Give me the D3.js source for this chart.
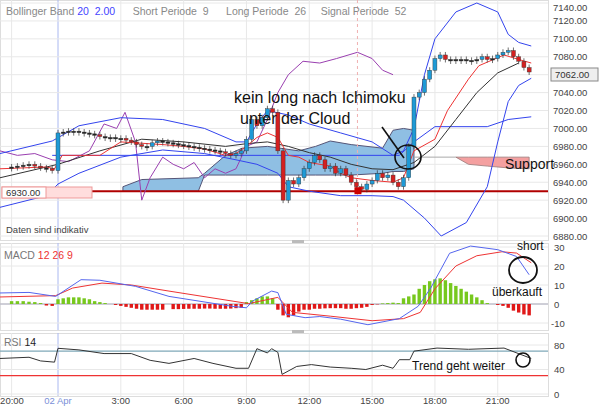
<!DOCTYPE html>
<html><head><meta charset="utf-8">
<script src="https://cdn.jsdelivr.net/npm/d3@7"></script>
<style>body{margin:0;background:#fff}svg{font-family:"Liberation Sans",Arial,sans-serif}</style>
</head><body><svg id="c" width="600" height="407"></svg>
<script>
// ---- data ----
const priceTicks=[6880,6900,6920,6940,6960,6980,7000,7020,7040,7060,7080,7100,7120,7140];
const macdTicks=[-10,0,10,20,30];
const rsiTicks=[0,40,80];
const timeTicks=[[-4,"20:00"],[0,"02 Apr"],[3,"3:00"],[6,"6:00"],[9,"9:00"],[12,"12:00"],[15,"15:00"],[18,"18:00"],[21,"21:00"]];
const preClose=[6957,6958,6959,6960,6958,6956,6955,6953];
const dayClose=[6995,6996,6997,6997,6996,6995,6994,6993,6991,6990,6990,6989,6989,6987,6985,6982,6980,6980,6984,6986,6985,6984,6983,6982,6981,6980,6979,6978,6977,6976,6975,6974,6972,6970,6972,6975,6988,7010,7003,7012,7022,7018,6975,6920,6942,6938,6945,6955,6962,6970,6965,6955,6958,6950,6955,6948,6940,6935,6932,6938,6942,6950,6945,6948,6940,6935,6945,6980,7035,7040,7055,7065,7078,7082,7077,7077,7076,7077,7076,7076,7077,7080,7077,7078,7082,7085,7087,7080,7075,7068,7063];
const firstOpen=6956;
const preHist=[1.5,1.5,1.5,1.2,1,0.5,-0.8,-1];
const dayHist=[2.5,3,3.5,3.5,3.5,3,2.5,1.5,1,0.5,0,-0.5,-1,-1.5,-2,-2.5,-3,-3,-3,-3,-3,0,-2.7,-2.7,-2.6,-2.5,-2.5,-2.5,-2.4,-2.4,-2.5,-2.5,-2.5,-2.4,-2.2,-2,1,2,3,4,4,3,-3,-6,-7,-6,-4,-3,-3,-2.5,-2.5,-2.3,-2.2,-2.2,-2.2,-2.5,-2.5,-2.2,-2,-1.5,-0.5,-0.2,0.3,0.5,0.7,0.5,3,4,5,8,10,12,13,13.5,12.5,11,9.5,8,6.5,5,3.5,2,0.5,0,-0.5,-1,-2,-3.5,-4.5,-5.5,-6];
const bbUpper=[[-5,6972],[-0.5,6986],[1,7003],[3,7012],[5,7010],[7,7000],[8.5,6985],[9,6985],[9.5,7005],[10,7020],[11,7015],[12,7005],[13.5,6995],[15,6985],[16,6970],[16.5,6975],[17,7000],[17.5,7060],[18,7100],[19,7130],[20,7140],[21,7130],[21.5,7105],[22,7096],[22.6,7092]];
const bbLower=[[-5,6912],[-1,6925],[0,6938],[1,6950],[3,6968],[5,6976],[7,6972],[8.5,6965],[9.5,6960],[10.5,6950],[11,6935],[12,6930],[13.5,6925],[15,6925],[16,6924],[16.5,6920],[17.5,6900],[18.3,6880],[19.5,6895],[20.5,6935],[21,6985],[21.5,7030],[22,7048],[22.6,7056]];
const blueStep=[[-0.5,6970],[16.3,6970],[17,6985],[18,7002],[20.5,7002],[21.5,7010],[22.6,7013]];
const redLine=[[-5,6955],[-1,6957],[-0.3,6955],[0.2,6970],[2,6970],[3,6985],[5,6982],[6,6980],[7,6977],[8,6970],[8.5,6972],[9,6980],[9.5,6990],[10,6995],[10.5,6990],[11,6970],[11.5,6968],[12,6962],[13,6958],[13.5,6950],[14,6945],[15,6942],[16,6940],[16.5,6945],[17,6975],[18,6988],[18.6,7020],[19.6,7055],[20.1,7070],[21.3,7082],[22,7077],[22.6,7073]];
const blackLine=[[-5,6945],[0,6960],[2,6975],[4,6988],[6,6985],[8,6980],[9,6983],[10,6985],[11,6980],[12,6973],[13,6968],[14,6960],[15,6955],[16,6954],[17,6962],[18,6980],[19,7010],[20,7040],[21,7062],[22,7073]];
const purpleLine=[[-5,6975],[-3.5,6970],[-2,6972],[-0.5,6965],[0.5,6963],[1.5,6975],[2.2,7005],[2.8,7000],[3.2,7018],[3.7,6985],[4,6920],[4.4,6945],[5,6968],[5.5,6960],[6,6955],[6.5,6962],[7,6945],[7.5,6955],[8,6950],[8.5,6955],[9,6980],[9.5,6985],[10,7010],[10.5,7040],[11,7060],[11.7,7075],[12.5,7073],[13.3,7078],[14.3,7085],[15,7078],[15.5,7065],[16,7060]];
const cloudBlue=[[3.1,6935,6930],[4,6943,6930],[6.7,6945,6930],[7,6950,6948],[8,6970,6948],[8.8,6978,6948],[10,6980,6948],[11.5,6975,6948],[12.3,6980,6948],[13,6986,6948],[14,6982,6948],[15.5,6978,6950],[16,6998,6952],[16.5,7000,6952],[17,6998,6955]];
const cloudRed=[[19,6968,6968],[19.6,6968,6960],[20.5,6968,6958],[21.5,6968,6956],[22.5,6968,6955]];
const macdLine=[[-5,5.8],[-2.5,6.1],[-0.2,4],[1.1,12.8],[2,12.5],[3.7,9.3],[5.3,4],[8.3,-1.2],[9,-2],[9.3,1.6],[10.2,6.8],[10.5,6],[10.9,-5.4],[11.8,-7.2],[12.5,-6.6],[13.5,-8],[14.8,-10.9],[16.3,-7.7],[17.2,-1.2],[17.8,8.4],[18.7,26.7],[19.7,30.5],[21,28.6],[21.9,25],[22.5,15.4]];
const signalLine=[[-5,3.7],[-0.2,4.4],[0.7,8.4],[2.1,11],[3.5,10],[5.3,6.8],[9.1,0.2],[10.5,3.5],[11.2,-4.4],[13,-6.4],[15,-8.8],[16.5,-7.7],[17.3,-4.4],[18,8],[19,20],[20,25.4],[21.2,27.5],[21.9,26.8],[22.6,21.7]];
const rsiLine=[[-5,58],[-2.5,60],[-1.5,54],[-0.3,52],[0,74.6],[1,72],[2.2,66],[3.5,66],[4.4,55],[5.3,50],[6.5,58],[7.4,50],[8.5,42],[9.1,42],[9.5,74],[10,67],[10.2,74],[10.5,68],[10.7,32],[11.4,45],[12.1,48],[13,44],[14,42],[14.7,40],[15.5,47],[16,42],[16.3,56],[16.8,56],[17,70],[18.1,75],[19.6,73],[21.3,75],[22.6,58]];
const supportLevel=6930, lastPrice=7062;

// ---- layout ----
const svg=d3.select("#c");
const W=548;
const x=d3.scaleLinear().domain([-5,0,23.4]).range([0,58,W]);
const y=d3.scaleLinear().domain([6880,7140]).range([236,3]);
const ym=d3.scaleLinear().domain([-10,30]).range([323,247]);
const yr=d3.scaleLinear().domain([0,80]).range([394,345]);
const panels=[[0,240],[243,330],[333,396]];
panels.forEach(p=>svg.append("rect").attr("x",0.5).attr("y",p[0]+0.5).attr("width",W).attr("height",p[1]-p[0]).attr("fill","#fff").attr("stroke","#ddd"));
const g=svg.append("g").attr("stroke","#e8e8e8").attr("stroke-width",1);
timeTicks.forEach(t=>panels.forEach(p=>g.append("line").attr("x1",x(t[0])).attr("x2",x(t[0])).attr("y1",p[0]).attr("y2",p[1]).attr("stroke",t[0]===0?"#aab8f0":"#e8e8e8")));
priceTicks.forEach(v=>g.append("line").attr("x1",0).attr("x2",W).attr("y1",y(v)).attr("y2",y(v)));
macdTicks.forEach(v=>g.append("line").attr("x1",0).attr("x2",W).attr("y1",ym(v)).attr("y2",ym(v)));
rsiTicks.forEach(v=>g.append("line").attr("x1",0).attr("x2",W).attr("y1",yr(v)).attr("y2",yr(v)));
const ax=svg.append("g").attr("font-size",9.5).attr("fill","#444");
priceTicks.filter(v=>Math.abs(y(v)-y(lastPrice))>9).forEach(v=>ax.append("text").attr("x",553).attr("y",Math.max(11,y(v)+3.5)).text(v.toFixed(2)));
macdTicks.forEach(v=>ax.append("text").attr("x",v<0?551:554).attr("y",ym(v)+3.5).text(v));
rsiTicks.forEach(v=>ax.append("text").attr("x",554).attr("y",yr(v)+3.5).text(v));
timeTicks.forEach(t=>ax.append("text").attr("x",Math.max(12,x(t[0]))).attr("y",404).attr("text-anchor","middle").attr("fill",t[0]===0?"#7a8fd8":"#444").text(t[1]));
const area=d3.area().x(d=>x(d[0])).y0(d=>y(d[2])).y1(d=>y(d[1]));
svg.append("path").attr("d",area(cloudBlue)).attr("fill","#8fbfe3").attr("stroke","#557");
svg.append("path").attr("d",area(cloudRed)).attr("fill","#f4a0a0").attr("stroke","#977").attr("stroke-width",0.8);
svg.append("line").attr("x1",x(17)).attr("x2",x(19)).attr("y1",y(6968)).attr("y2",y(6968)).attr("stroke","#aaa");
svg.append("line").attr("x1",92).attr("x2",W).attr("y1",y(supportLevel)).attr("y2",y(supportLevel)).attr("stroke","#b00000").attr("stroke-width",2);
svg.append("line").attr("x1",x(14.3)).attr("x2",x(14.3)).attr("y1",0).attr("y2",240).attr("stroke","#f0b0b0").attr("stroke-dasharray","3,3");
const line=(s)=>d3.line().x(d=>x(d[0])).y(d=>s(d[1]));
const addLine=(data,s,c,w)=>svg.append("path").attr("d",line(s)(data)).attr("fill","none").attr("stroke",c).attr("stroke-width",w||1);
addLine(purpleLine,y,"#9a3fb0");
addLine(bbUpper,y,"#3344ee");addLine(bbLower,y,"#3344ee");addLine(blueStep,y,"#3344ee");
addLine(blackLine,y,"#333");addLine(redLine,y,"#ee3333");
const candles=[];let prev=firstOpen;
preClose.forEach((c,i)=>{candles.push({h:-4+i*0.5,o:prev,c});prev=c;});
dayClose.forEach((c,i)=>{candles.push({h:i*0.25,o:prev,c});prev=c;});
candles.forEach(d=>{const top=y(Math.max(d.o,d.c)),bot=y(Math.min(d.o,d.c));const hgt=Math.max(1.5,bot-top);
 const col=Math.abs(d.c-d.o)<1.5?"#222":(d.c>d.o?"#1e9ad6":"#d42020");
 svg.append("line").attr("x1",x(d.h)).attr("x2",x(d.h)).attr("y1",top-3).attr("y2",top+hgt+3).attr("stroke","#333").attr("stroke-width",0.7);
 svg.append("rect").attr("x",x(d.h)-2).attr("y",top).attr("width",4).attr("height",hgt).attr("fill",col).attr("stroke","#333").attr("stroke-width",0.4);});
svg.append("rect").attr("x",x(14.3)-3).attr("y",y(supportLevel)-4).attr("width",7).attr("height",7).attr("fill","#c00");
svg.append("rect").attr("x",2).attr("y",187).attr("width",90).attr("height",11).attr("fill","#fdd").attr("stroke","#e99");
svg.append("rect").attr("x",2).attr("y",187).attr("width",44).attr("height",11).attr("fill","#fff").attr("stroke","#e99");
svg.append("text").attr("x",6).attr("y",196).attr("font-size",9.5).attr("fill","#333").text("6930.00");
svg.append("rect").attr("x",551).attr("y",68).attr("width",47).attr("height",13).attr("fill","#eee").attr("stroke","#888");
svg.append("text").attr("x",555).attr("y",78).attr("font-size",9.5).attr("fill","#333").text(lastPrice.toFixed(2));
const hdr=svg.append("text").attr("x",6).attr("y",15).attr("font-size",10.5).attr("fill","#888");
[["Bollinger Band ","#888"],["20  2.00","#44f"],["      Short Periode  ","#888"],["9","#888"],["      Long Periode  ","#888"],["26","#888"],["     Signal Periode  ","#888"],["52","#888"]].forEach(t=>hdr.append("tspan").attr("fill",t[1]).attr("xml:space","preserve").text(t[0]));
svg.append("text").attr("x",6).attr("y",233).attr("font-size",9.5).attr("fill","#444").text("Daten sind indikativ");
svg.append("text").attr("x",234).attr("y",103).attr("font-size",16).attr("fill","#111").text("kein long nach Ichimoku");
svg.append("text").attr("x",240).attr("y",124).attr("font-size",16).attr("fill","#111").text("unter der Cloud");
svg.append("line").attr("x1",382).attr("y1",127).attr("x2",404).attr("y2",158).attr("stroke","#111").attr("stroke-width",1.6);
svg.append("ellipse").attr("cx",408).attr("cy",157).attr("rx",13).attr("ry",12).attr("fill","none").attr("stroke","#111").attr("stroke-width",1.6);
svg.append("text").attr("x",505).attr("y",169).attr("font-size",14).attr("fill","#111").text("Support");
svg.append("line").attr("x1",0).attr("x2",W).attr("y1",ym(0)).attr("y2",ym(0)).attr("stroke","#aab");
const hist=[];preHist.forEach((v,i)=>hist.push([-4+i*0.5,v]));dayHist.forEach((v,i)=>hist.push([i*0.25,v]));
hist.forEach(d=>svg.append("rect").attr("x",x(d[0])-1.7).attr("width",3.4).attr("y",Math.min(ym(0),ym(d[1]))).attr("height",Math.abs(ym(d[1])-ym(0))).attr("fill",d[1]>=0?"#77c81e":"#e01818"));
addLine(signalLine,ym,"#ee3333");addLine(macdLine,ym,"#5566ee");
const mh=svg.append("text").attr("x",4).attr("y",259).attr("font-size",10.5).attr("fill","#777");
mh.append("tspan").text("MACD ");mh.append("tspan").attr("fill","#e33").text(" 12  26  9");
svg.append("text").attr("x",517).attr("y",250).attr("font-size",12).attr("fill","#111").text("short");
svg.append("text").attr("x",492).attr("y",296).attr("font-size",12).attr("fill","#111").text("überkauft");
svg.append("ellipse").attr("cx",523).attr("cy",270).attr("rx",14).attr("ry",13).attr("fill","none").attr("stroke","#111").attr("stroke-width",1.8);
svg.append("line").attr("x1",0).attr("x2",W).attr("y1",yr(70)).attr("y2",yr(70)).attr("stroke","#7fa8b8").attr("stroke-width",1.2);
svg.append("line").attr("x1",0).attr("x2",W).attr("y1",yr(30)).attr("y2",yr(30)).attr("stroke","#ee3333").attr("stroke-width",1.2);
addLine(rsiLine,yr,"#333");
const rh=svg.append("text").attr("x",4).attr("y",346).attr("font-size",10.5).attr("fill","#777");
rh.append("tspan").text("RSI ");rh.append("tspan").attr("fill","#222").text(" 14");
svg.append("text").attr("x",412).attr("y",370).attr("font-size",12).attr("fill","#111").text("Trend geht weiter");
svg.append("ellipse").attr("cx",523).attr("cy",360).attr("rx",7).attr("ry",7).attr("fill","none").attr("stroke","#111").attr("stroke-width",1.6);
[241.5,331.5].forEach(v=>svg.append("rect").attr("x",292).attr("y",v-1.5).attr("width",12).attr("height",3).attr("fill","#bbb"));
</script></body></html>
